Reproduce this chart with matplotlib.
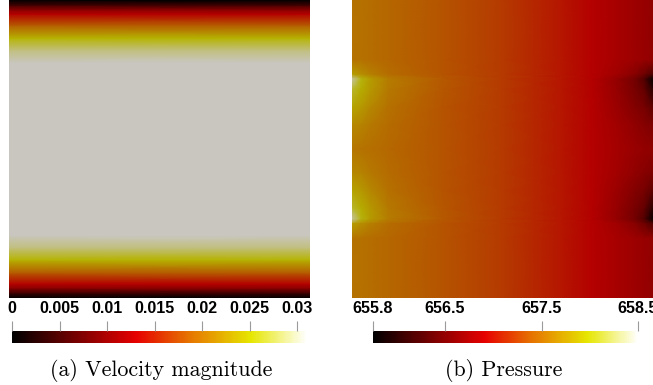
import numpy as np
import matplotlib
matplotlib.use("Agg")
import matplotlib.pyplot as plt
from matplotlib.colors import LinearSegmentedColormap, Normalize
from matplotlib.cm import ScalarMappable

# =============================================================================
# Data
# =============================================================================
# colour map (black body radiation style)
cmap_pos = [0.0, 0.42, 0.60, 0.81, 1.0]
cmap_rgb = [(0, 0, 0), (230, 0, 0), (230, 115, 0), (230, 230, 0), (255, 255, 255)]
light = (0.785, 0.777, 0.75)   # surface shading of the rendered fields

# (a) velocity magnitude, profile across the channel (distance from wall / height)
vel_min, vel_max = 0.0, 0.03105
vel_ticks = [0, 0.005, 0.01, 0.015, 0.02, 0.025, 0.03]
vel_ticklabels = ["0", "0.005", "0.01", "0.015", "0.02", "0.025", "0.03"]
wall_dist = [0.0, 0.017, 0.034, 0.047, 0.084, 0.128, 0.168, 0.21, 0.5]
speed = [0.0, 0.0047, 0.0102, 0.0130, 0.0186, 0.0252, 0.0289, 0.0310, 0.0310]

# (b) pressure on a coarse grid (top half, mirrored for the bottom half)
p_min, p_max = 655.76, 658.49
p_ticks = [655.76, 656.5, 657.5, 658.49]
p_ticklabels = ["655.8", "656.5", "657.5", "658.5"]
p_x = [0.0, 0.03, 0.06, 0.12, 0.3, 0.5, 0.7, 0.8, 0.88, 0.94, 0.97, 1.0]
p_depth = [0.0, 0.20, 0.25, 0.265, 0.30, 0.36, 0.42, 0.5]
p_rows = [
    [657.56, 657.55, 657.53, 657.48, 657.36, 657.23, 657.02, 656.91, 656.82, 656.76, 656.72, 656.69],
    [657.56, 657.55, 657.53, 657.48, 657.36, 657.23, 657.02, 656.91, 656.82, 656.76, 656.72, 656.69],
    [657.85, 657.74, 657.64, 657.52, 657.37, 657.23, 657.02, 656.91, 656.78, 656.62, 656.46, 656.25],
    [658.42, 658.00, 657.82, 657.62, 657.40, 657.23, 657.02, 656.90, 656.70, 656.50, 656.30, 655.80],
    [658.10, 657.93, 657.80, 657.60, 657.39, 657.23, 657.02, 656.90, 656.71, 656.52, 656.40, 656.02],
    [657.88, 657.80, 657.70, 657.55, 657.37, 657.23, 657.02, 656.91, 656.75, 656.60, 656.52, 656.36],
    [657.70, 657.66, 657.60, 657.51, 657.36, 657.23, 657.02, 656.91, 656.79, 656.68, 656.62, 656.56],
    [657.58, 657.56, 657.54, 657.49, 657.36, 657.23, 657.02, 656.91, 656.81, 656.74, 656.70, 656.67],
]

captions = ["(a) Velocity magnitude", "(b) Pressure"]

# =============================================================================
# Colour maps
# =============================================================================
rgb = np.array(cmap_rgb) / 255.0
cmap = LinearSegmentedColormap.from_list("bbr", list(zip(cmap_pos, rgb)))
cmap_lit = LinearSegmentedColormap.from_list(
    "bbr_lit", list(zip(cmap_pos, np.clip(rgb * np.array(light), 0, 1))))

W, H = 653, 385
fig = plt.figure(figsize=(W / 100, H / 100), dpi=100)


def px_axes(x, y, w, h):
    return fig.add_axes([x / W, 1 - (y + h) / H, w / W, h / H])


# =============================================================================
# (a) velocity
# =============================================================================
ax1 = px_axes(9, 0, 301, 298)
wd = np.array(wall_dist)
yv = np.concatenate([wd, 1 - wd[::-1][1:]])
sv = np.concatenate([speed, speed[::-1][1:]])
Xv, Yv = np.meshgrid([0, 1], yv)
Cv = np.column_stack([sv, sv])
norm_v = Normalize(vel_min, vel_max)
ax1.pcolormesh(Xv, Yv, Cv, cmap=cmap_lit, norm=norm_v, shading="gouraud")
ax1.set_xlim(0, 1)
ax1.set_ylim(0, 1)
ax1.axis("off")

# =============================================================================
# (b) pressure
# =============================================================================
ax2 = px_axes(352, 0, 301, 298)
pd_ = np.array(p_depth)
yp = np.concatenate([1 - pd_, pd_[::-1][1:]])
Cp = np.vstack([np.array(p_rows), np.array(p_rows)[::-1][1:]])
Xp, Yp = np.meshgrid(p_x, yp)
norm_p = Normalize(p_min, p_max)
ax2.pcolormesh(Xp, Yp, Cp, cmap=cmap_lit, norm=norm_p, shading="gouraud")
ax2.set_xlim(0, 1)
ax2.set_ylim(0, 1)
ax2.axis("off")

# =============================================================================
# Colour bars
# =============================================================================
def colour_bar(x0, x1, norm, ticks, labels):
    cax = px_axes(x0, 331, x1 - x0, 12)
    cb = fig.colorbar(ScalarMappable(norm=norm, cmap=cmap), cax=cax,
                      orientation="horizontal", ticks=ticks)
    cb.outline.set_visible(False)
    cax.xaxis.set_ticks_position("top")
    cax.tick_params(axis="x", direction="out", length=7, width=0.8,
                    color="#9a9a9a", pad=4, labelsize=11.5)
    cax.set_xticklabels(labels, fontweight="bold", family="Liberation Sans")
    return cb


colour_bar(12, 307, norm_v, vel_ticks, vel_ticklabels)
colour_bar(373, 638, norm_p, p_ticks, p_ticklabels)

fig.text(161 / W, 1 - 370 / H, captions[0], ha="center", va="center",
         family="cmr10", fontsize=15.8)
fig.text(504 / W, 1 - 370 / H, captions[1], ha="center", va="center",
         family="cmr10", fontsize=15.8)

fig.savefig("out.png", dpi=100)
